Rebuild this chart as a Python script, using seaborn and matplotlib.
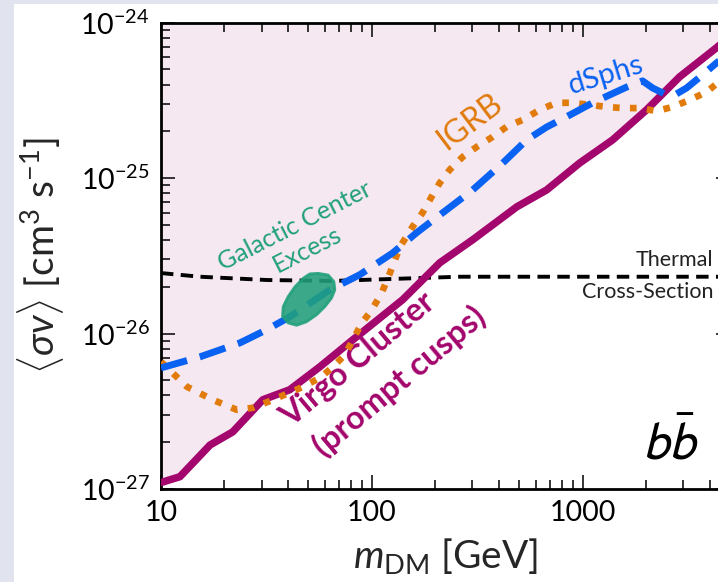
import matplotlib
matplotlib.use("Agg")
import matplotlib.pyplot as plt
from matplotlib.patches import Rectangle
import seaborn as sns

# ---- data (mass in GeV, <sigma v> in cm^3/s) ----
# Virgo cluster limit (prompt cusps)
virgo_mass = [10, 12.3, 17.1, 21.9, 30.4, 40.8, 56.7, 81.3, 140, 210, 301, 487,
              675, 968, 1387, 2011, 2884, 4365, 5000]
virgo_sv = [1.10e-27, 1.20e-27, 1.92e-27, 2.33e-27, 3.75e-27, 4.35e-27, 6.11e-27,
            9.12e-27, 1.65e-26, 2.85e-26, 4.01e-26, 6.53e-26, 8.39e-26, 1.25e-25,
            1.76e-25, 2.75e-25, 4.48e-25, 6.98e-25, 8.34e-25]

# dwarf spheroidals
dsph_mass = [10, 15.3, 23.7, 31.8, 40.8, 63.2, 87.7, 125.7, 163, 226, 301, 418,
             543, 675, 839, 1115, 1617, 1924, 2146, 2502, 2790, 3113, 3705, 4365, 5000]
dsph_sv = [6.01e-27, 7.08e-27, 8.71e-27, 1.06e-26, 1.28e-26, 1.91e-26, 2.39e-26,
           3.30e-26, 4.45e-26, 6.24e-26, 8.39e-26, 1.25e-25, 1.76e-25, 2.13e-25,
           2.48e-25, 3.05e-25, 3.85e-25, 4.22e-25, 3.80e-25, 3.43e-25, 3.48e-25,
           3.80e-25, 4.61e-25, 5.58e-25, 6.31e-25]

# isotropic gamma-ray background
igrb_mass = [10, 13.3, 17.6, 22.9, 27.3, 34.0, 47.1, 56.7, 64.6, 74.5, 89.7, 100,
             111.5, 122, 136, 156, 174, 192, 210, 234, 270, 315, 374, 436, 520,
             626, 753, 897, 1080, 1299, 1548, 1863, 2243, 2672, 3214, 3871, 4365, 5000]
igrb_sv = [6.58e-27, 4.54e-27, 3.75e-27, 3.23e-27, 3.33e-27, 3.75e-27, 4.54e-27,
           5.19e-27, 6.01e-27, 7.29e-27, 1.17e-26, 1.42e-26, 1.83e-26, 2.46e-26,
           3.61e-26, 4.86e-26, 5.98e-26, 7.57e-26, 9.31e-26, 1.13e-25, 1.37e-25,
           1.59e-25, 1.84e-25, 2.14e-25, 2.37e-25, 2.75e-25, 3.05e-25, 3.05e-25,
           2.96e-25, 2.87e-25, 2.82e-25, 2.82e-25, 2.70e-25, 2.87e-25, 3.18e-25,
           3.58e-25, 4.09e-25, 4.57e-25]

# thermal relic cross-section
thermal_mass = [10, 15.3, 31.8, 65, 88, 260, 1115, 5000]
thermal_sv = [2.45e-26, 2.32e-26, 2.21e-26, 2.18e-26, 2.21e-26, 2.32e-26, 2.32e-26, 2.32e-26]

# Galactic Center Excess region (contour)
gce_mass = [55.7, 62.1, 66.1, 66.8, 64.4, 59.9, 54.7, 49.0, 44.0, 40.1, 37.7, 38.0,
            40.1, 43.2, 47.3, 50.8]
gce_sv = [2.44e-26, 2.38e-26, 2.16e-26, 1.91e-26, 1.69e-26, 1.49e-26, 1.32e-26,
          1.19e-26, 1.13e-26, 1.17e-26, 1.29e-26, 1.49e-26, 1.73e-26, 2.00e-26,
          2.27e-26, 2.42e-26]

x_ticks = [10, 100, 1000]
x_tick_labels = ["10", "100", "1000"]
y_ticks = [1e-27, 1e-26, 1e-25, 1e-24]

# colours
c_virgo = "#a3066c"
c_dsph = "#0a62f2"
c_igrb = "#e07b0c"
c_gce = "#21a07c"
c_fill = "#f6e8f1"

sns.set_style("ticks")
plt.rcParams["font.family"] = ["Lato", "DejaVu Sans"]
plt.rcParams["mathtext.fontset"] = "custom"
plt.rcParams["mathtext.rm"] = "Lato"
plt.rcParams["mathtext.it"] = "Lato:italic"
plt.rcParams["mathtext.bf"] = "Lato:bold"
plt.rcParams["mathtext.sf"] = "Lato"

fig = plt.figure(figsize=(7.18, 5.82), dpi=100, facecolor="#e1e4ee")
fig.add_artist(Rectangle((14 / 718, 0), 1, 578 / 582, transform=fig.transFigure,
                         facecolor="white", edgecolor="none", zorder=-10))
# the panel runs past the right edge of the picture
ax = fig.add_axes([0.2242, 0.1598, 0.7925, 0.8013])
ax.set_facecolor("white")

ax.fill_between(virgo_mass, virgo_sv, 1e-24, color=c_fill, lw=0, zorder=0)

sns.lineplot(x=thermal_mass, y=thermal_sv, ax=ax, color="black", lw=2.8,
             linestyle=(0, (3.2, 1.9)), zorder=2)
sns.lineplot(x=virgo_mass, y=virgo_sv, ax=ax, color=c_virgo, lw=5.4, zorder=3)
sns.lineplot(x=igrb_mass, y=igrb_sv, ax=ax, color=c_igrb, lw=4.8,
             linestyle=(0, (1, 1.55)), zorder=4)
sns.lineplot(x=dsph_mass, y=dsph_sv, ax=ax, color=c_dsph, lw=5,
             linestyle=(0, (3.9, 1.9)), zorder=5)
ax.fill(gce_mass, gce_sv, color=c_gce, alpha=0.88, lw=2, joinstyle="round", zorder=6)

ax.set_xscale("log")
ax.set_yscale("log")
ax.set_xlim(10, 5000)
ax.set_ylim(1e-27, 1e-24)
ax.set_xticks(x_ticks, labels=x_tick_labels)
ax.set_yticks(y_ticks)

for s in ax.spines.values():
    s.set_linewidth(2)
    s.set_color("black")
ax.tick_params(which="both", direction="in", top=True, right=True, width=1.1,
               colors="black", labelsize=20.5)
ax.tick_params(which="major", length=10, pad=8)
ax.tick_params(which="minor", length=6.5)

ax.set_xlabel(r"$m_{\rm DM}$ [GeV]", fontsize=28)
ax.set_ylabel(r"$\langle \sigma v \rangle$ [cm$^3$ s$^{-1}$]", fontsize=28)
ax.xaxis.set_label_coords(0.5, -0.1)
ax.yaxis.set_label_coords(-0.167, 0.5)

# annotations
ax.text(46.1, 4.12e-26, "Galactic Center\nExcess", color=c_gce, fontsize=18,
        rotation=27, ha="center", va="center", multialignment="center",
        linespacing=1.2, rotation_mode="anchor")
ax.text(291, 2.30e-25, "IGRB", color=c_igrb, fontsize=23, rotation=37,
        ha="center", va="center", rotation_mode="anchor")
ax.text(1285, 4.61e-25, "dSphs", color=c_dsph, fontsize=21, rotation=17,
        ha="center", va="center", rotation_mode="anchor")
ax.text(4178, 2.98e-26, "Thermal", color="#222222", fontsize=15.5,
        ha="right", va="center")
ax.text(4178, 1.85e-26, "Cross-Section", color="#222222", fontsize=15.5,
        ha="right", va="center")
ax.text(41.3, 2.48e-27, "Virgo Cluster", color=c_virgo, fontsize=23.5,
        fontweight="bold", rotation=40, ha="left", va="baseline",
        rotation_mode="anchor")
ax.text(59.2, 1.59e-27, "(prompt cusps)", color=c_virgo, fontsize=23.5,
        fontweight="bold", rotation=40, ha="left", va="baseline",
        rotation_mode="anchor")
ax.text(2612, 1.98e-27, r"$b\bar{b}$", color="black", fontsize=38,
        ha="center", va="center", math_fontfamily="stixsans")

fig.savefig("out.png", dpi=100, facecolor=fig.get_facecolor())
